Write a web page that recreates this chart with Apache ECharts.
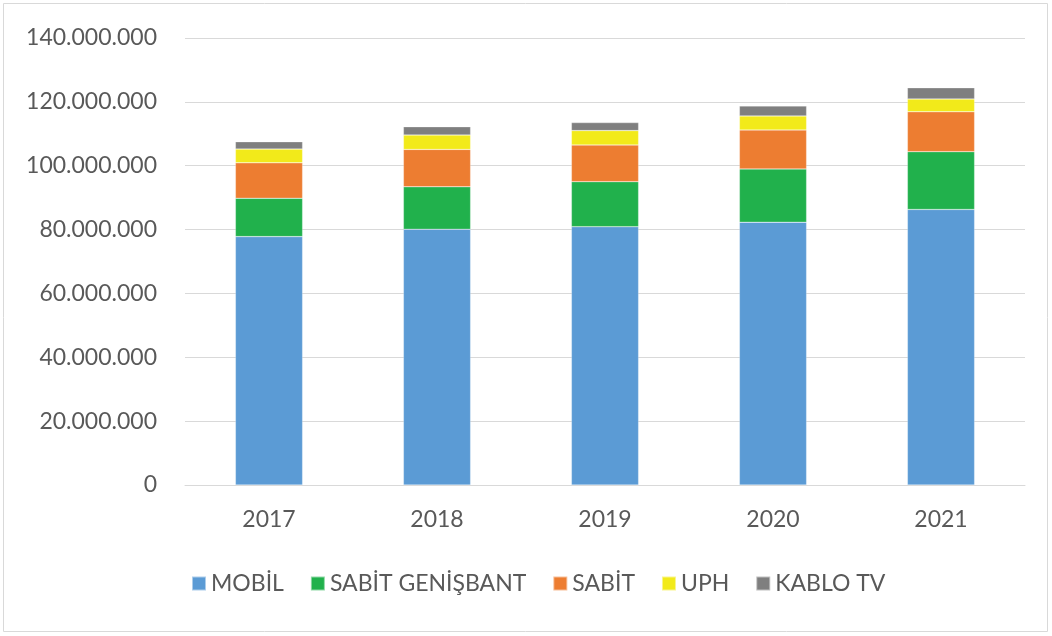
<!DOCTYPE html>
<html lang="tr">
<head>
<meta charset="UTF-8">
<title>Abone sayıları</title>
<style>
  html, body { margin: 0; padding: 0; background: #fff; }
  #main { width: 1052px; height: 636px; }
</style>
</head>
<body>
<div id="main"></div>
<script src="https://cdn.jsdelivr.net/npm/echarts@6/dist/echarts.min.js"></script>
<script>
// yıllar
var years = ['2017', '2018', '2019', '2020', '2021'];
// seri değerleri (abone sayısı)
var mobil = [77800000, 80100000, 80900000, 82300000, 86300000];
var sabitGenisbant = [12000000, 13300000, 14100000, 16700000, 18100000];
var sabit = [11100000, 11700000, 11500000, 12200000, 12500000];
var uph = [4300000, 4500000, 4500000, 4400000, 4000000];
var kabloTv = [2300000, 2600000, 2500000, 3100000, 3500000];

var seriesNames = ['MOBİL', 'SABİT GENİŞBANT', 'SABİT', 'UPH', 'KABLO TV'];
var seriesData = [mobil, sabitGenisbant, sabit, uph, kabloTv];
var colors = ['#5B9BD5', '#21B14C', '#ED7D31', '#F2EA1A', '#7F7F7F'];

var fontName = 'Lato';
var textColor = '#595959';

function dots(v) {
    return String(v).replace(/\B(?=(\d{3})+(?!\d))/g, '.');
}

var myChart = echarts.init(document.getElementById('main'));

myChart.setOption({
    animation: false,
    color: colors,
    textStyle: { fontFamily: fontName },
    graphic: [{
        type: 'rect',
        shape: { x: 3.5, y: 3.5, width: 1044, height: 628 },
        style: { fill: 'none', stroke: '#d9d9d9', lineWidth: 1 }
    }],
    grid: { left: 185, right: 27, top: 38, bottom: 151 },
    legend: {
        bottom: 36,
        left: 186,
        itemWidth: 14,
        itemHeight: 14,
        itemGap: 26,
        icon: 'rect',
        textStyle: { fontSize: 23, color: textColor, fontFamily: fontName, padding: [0, 0, 0, 0] },
        data: seriesNames
    },
    xAxis: {
        type: 'category',
        data: years,
        axisLine: { lineStyle: { color: '#d9d9d9', width: 1 } },
        axisTick: { show: false },
        axisLabel: { fontSize: 23, color: textColor, margin: 23, fontFamily: fontName }
    },
    yAxis: {
        type: 'value',
        min: 0,
        max: 140000000,
        interval: 20000000,
        axisLine: { show: false },
        axisTick: { show: false },
        splitLine: { lineStyle: { color: '#d9d9d9', width: 1 } },
        axisLabel: {
            fontSize: 23, color: textColor, margin: 28, fontFamily: fontName,
            formatter: function (v) { return dots(v); }
        }
    },
    series: seriesNames.map(function (name, i) {
        return {
            name: name,
            type: 'bar',
            stack: 'toplam',
            barWidth: '40%',
            itemStyle: { borderColor: 'rgba(255,255,255,0.5)', borderWidth: 0.5 },
            data: seriesData[i]
        };
    })
});
</script>
</body>
</html>
